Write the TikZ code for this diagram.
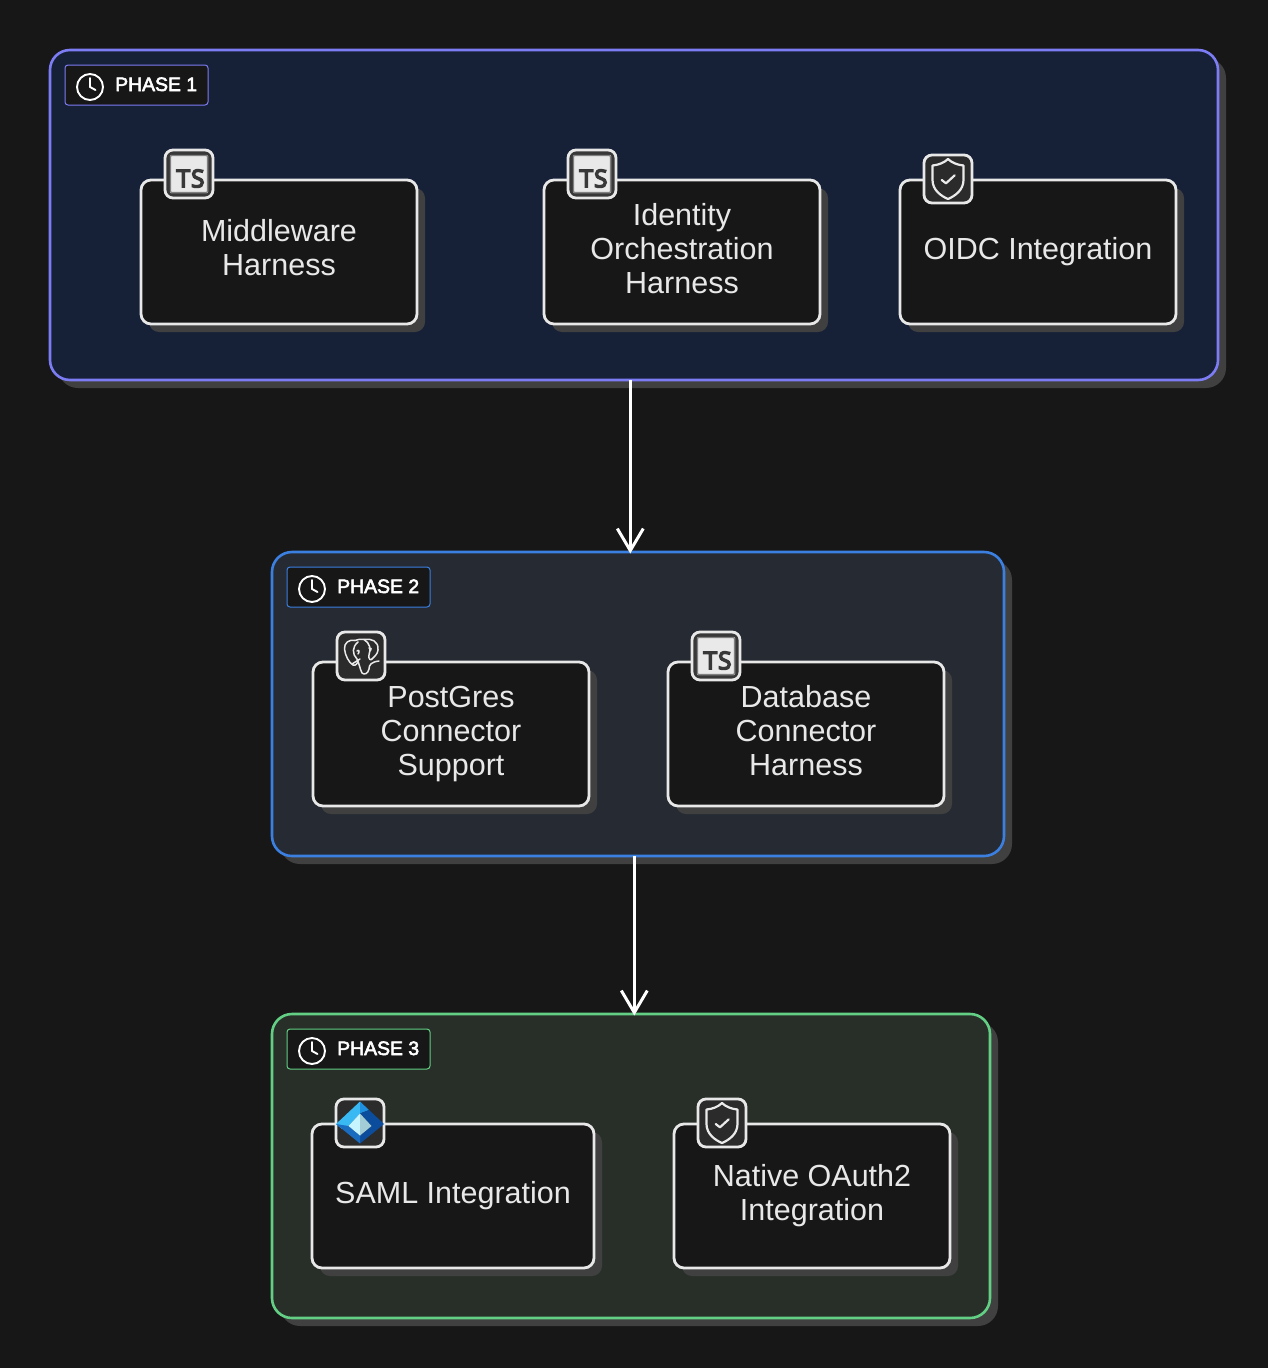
\documentclass[tikz,border=0pt]{standalone}
\usepackage{fontspec}
\setmainfont{Liberation Sans}
\newfontfamily\lblfont[FakeBold=3]{Liberation Sans}
\newfontfamily\tsfont[FakeBold=6,LetterSpace=4]{Open Sans}
\usetikzlibrary{arrows.meta,shadows}
\definecolor{bgc}{HTML}{171717}
\definecolor{shad}{HTML}{404040}
\definecolor{fa}{HTML}{162138}
\definecolor{sa}{HTML}{7C7CF5}
\definecolor{fb}{HTML}{262B33}
\definecolor{sb}{HTML}{3B7FE0}
\definecolor{fc}{HTML}{282F29}
\definecolor{sc}{HTML}{62CF84}
\definecolor{ink}{HTML}{E8E8E8}
\definecolor{iconbg}{HTML}{2B2B2B}
\definecolor{azA}{HTML}{39B9F4}
\definecolor{azB}{HTML}{1F8FE0}
\definecolor{azC}{HTML}{0C4C9C}
\definecolor{azD}{HTML}{1A6CC0}
\definecolor{azE}{HTML}{C6F4FF}
\definecolor{azF}{HTML}{A2CDD6}
\tikzset{
  phasebox/.style={rectangle,rounded corners=20pt,line width=2.6pt,inner sep=0pt,outer sep=0pt,
    general shadow={shadow xshift=8pt,shadow yshift=-8pt,fill=shad}},
  cardbox/.style={rectangle,rounded corners=10pt,draw=ink,fill=bgc,line width=2.8pt,inner sep=0pt,outer sep=0pt,minimum height=144pt,
    general shadow={shadow xshift=8pt,shadow yshift=-8pt,fill=shad}},
  cardtext/.style={text=ink,align=center,inner sep=0pt,font=\fontsize{30.5}{34}\selectfont},
  taglabel/.style={rectangle,rounded corners=3pt,fill=bgc,line width=1pt,inner sep=0pt,outer sep=0pt,minimum width=143pt,minimum height=40pt},
  tagtext/.style={text=white,anchor=base west,inner sep=0pt,font=\lblfont\fontsize{19.4}{24}\selectfont},
  flow/.style={draw=white,line width=2.4pt,shorten >=-1.5pt,-{Straight Barb[length=22pt,width=26pt,line width=3pt]}},
  iconframe/.style={rectangle,rounded corners=8pt,draw=ink,fill=iconbg,line width=2.8pt,minimum size=48pt,inner sep=0pt,outer sep=0pt},
  clockpic/.pic={
    \draw[white,line width=1.9pt] (0,0) circle (13pt);
    \draw[white,line width=1.9pt,line cap=round,line join=round] (0,-9) -- (0,0) -- (5.5,3);
  },
  tspic/.pic={
    \node[iconframe,fill=black!78] at (0,0) {};
    \fill[rounded corners=1pt,fill=ink!96] (-19,-19) rectangle (19,19);
    \draw[line width=1.2pt,draw=black!50,rounded corners=1pt] (-18.5,-18.5) rectangle (18.5,18.5);
    \node[text=black!78,inner sep=0pt,font=\tsfont\fontsize{24.5}{26}\selectfont] at (1.5,4.5) {TS};
  },
  shieldpic/.pic={
    \node[iconframe] at (0,0) {};
    \draw[draw=ink!90,line width=2.2pt,line join=round] (0,-20) .. controls (-4,-16) and (-10,-14) .. (-15.5,-13.5)
      -- (-15.5,1) .. controls (-15.5,11) and (-7,17) .. (0,20)
      .. controls (7,17) and (15.5,11) .. (15.5,1) -- (15.5,-13.5)
      .. controls (10,-14) and (4,-16) .. (0,-20) -- cycle;
    \draw[draw=ink!90,line width=2.2pt,line cap=round,line join=round] (-6.3,1) -- (-2,4.3) -- (6.7,-3.7);
  },
  elephantpic/.pic={
    \node[iconframe] at (0,0) {};
    \begin{scope}[draw=ink!90,line width=1.5pt,line join=round,line cap=round]
      \draw (-6,-15.5) .. controls (-12,-17) and (-17,-13) .. (-16.5,-7) .. controls (-16,-1) and (-12,7) .. (-8,9)
        .. controls (-5,10) and (-3,7) .. (-3,4);
      \draw (-6,-15.5) .. controls (-3,-17) and (0,-17) .. (3,-16.5) .. controls (10,-18) and (18,-15) .. (17,-6)
        .. controls (16.5,-2) and (14,0) .. (11,3);
      \draw (-3,-14) .. controls (-9,-9) and (-9,-2) .. (-4,3) .. controls (-2,7) and (-1,13) .. (1,17)
        .. controls (3,19) and (7,18) .. (8,13) .. controls (8,9) and (10,6) .. (18,5);
      \draw (3,-16.5) .. controls (9,-13) and (10,-7) .. (8,-1) .. controls (7,3) and (10,5) .. (11,3);
      \draw (-9,8) -- (-1,3) (-4,-5) .. controls (-2,-7) and (-1,-4) .. (-3,-2);
      \draw (8,-8) .. controls (10,-9) and (11,-7) .. (9,-5);
    \end{scope}
  },
  azurepic/.pic={
    \node[iconframe] at (0,0) {};
    \fill[fill=azA] (0,-21.5) -- (-24,1) -- (-18,6) -- (-11.5,3) -- (0,-9.5) -- cycle;
    \fill[fill=azB] (0,-21.5) -- (9,-13) -- (0,-9.5) -- cycle;
    \fill[fill=azC] (9,-13) -- (24,1) -- (0,20.5) -- (0,12.5) -- (11.5,3) -- (0,-9.5) -- cycle;
    \fill[fill=azD] (-24,1) -- (0,20.5) -- (0,12.5) -- (-11.5,3) -- cycle;
    \fill[fill=azE] (0,-9.5) -- (-11.5,3) -- (0,12.5) -- cycle;
    \fill[fill=azF] (0,-9.5) -- (11.5,3) -- (0,12.5) -- cycle;
  }
}
\begin{document}
\begin{tikzpicture}[x=1pt,y=-1pt]
\useasboundingbox (0,0) rectangle (1268,1368);
\fill[bgc] (0,0) rectangle (1268,1368);
% phases
\node[phasebox,draw=sa,fill=fa,minimum width=1168pt,minimum height=330pt] (p1) at (634,215) {};
\node[phasebox,draw=sb,fill=fb,minimum width=732pt,minimum height=304pt] (p2) at (638,704) {};
\node[phasebox,draw=sc,fill=fc,minimum width=718pt,minimum height=304pt] (p3) at (631,1166) {};
% tags
\node[taglabel,draw=sa] (t1) at (136.5,85) {};
\node[taglabel,draw=sb] (t2) at (358.5,587) {};
\node[taglabel,draw=sc] (t3) at (358.5,1049) {};
\pic at (90,87) {clockpic};
\pic at (312,589) {clockpic};
\pic at (312,1051) {clockpic};
\node[tagtext] (tt1) at (115,91) {PHASE 1};
\node[tagtext] (tt2) at (337,593) {PHASE 2};
\node[tagtext] (tt3) at (337,1055) {PHASE 3};
% cards
\node[cardbox,minimum width=276pt] (a) at (279,252) {};
\node[cardbox,minimum width=276pt] (b) at (682,252) {};
\node[cardbox,minimum width=276pt] (c) at (1038,252) {};
\node[cardbox,minimum width=276pt] (d) at (451,734) {};
\node[cardbox,minimum width=276pt] (e) at (806,734) {};
\node[cardbox,minimum width=282pt] (f) at (453,1196) {};
\node[cardbox,minimum width=276pt] (g) at (812,1196) {};
\node[cardtext] (at) at (279,248) {Middleware\\Harness};
\node[cardtext] (bt) at (682,249) {Identity\\Orchestration\\Harness};
\node[cardtext] (ct) at (1038,252) {OIDC Integration};
\node[cardtext] (dt) at (451,734) {PostGres\\Connector\\Support};
\node[cardtext] (et) at (806,731) {Database\\Connector\\Harness};
\node[cardtext] (ft) at (453,1196) {SAML Integration};
\node[cardtext] (gt) at (812,1196) {Native OAuth2\\Integration};
% icons
\pic at (189,174) {tspic};
\pic at (592,174) {tspic};
\pic at (716,656) {tspic};
\pic at (948,179) {shieldpic};
\pic at (722,1123) {shieldpic};
\pic at (361,656) {elephantpic};
\pic at (360,1123) {azurepic};
% connectors
\coordinate (x1) at (630.3,0);
\coordinate (x2) at (634.3,0);
\draw[flow] (p1.south -| x1) -- (p2.north -| x1);
\draw[flow] (p2.south -| x2) -- (p3.north -| x2);
\end{tikzpicture}
\end{document}
